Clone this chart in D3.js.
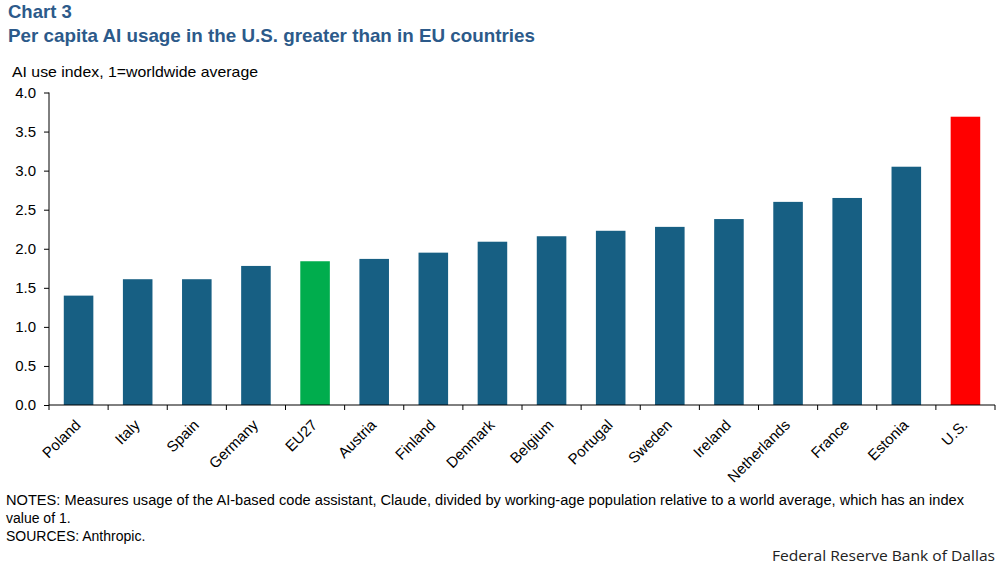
<!DOCTYPE html>
<html>
<head>
<meta charset="utf-8">
<script src="https://d3js.org/d3.v7.min.js"></script>
<style>
  body { margin: 0; background: #fff; }
  svg text { font-family: "Liberation Sans", Arial, sans-serif; }
  .title { font-weight: bold; fill: #2c5a8a; font-size: 18.5px; }
  .axis text { font-size: 15px; fill: #000; }
  .axis path, .axis line { stroke: #000; }
  .note { font-size: 14px; fill: #000; }
</style>
</head>
<body>
<svg id="chart"></svg>
<script>
// data
var countries = ["Poland", "Italy", "Spain", "Germany", "EU27", "Austria", "Finland", "Denmark",
                 "Belgium", "Portugal", "Sweden", "Ireland", "Netherlands", "France", "Estonia", "U.S."];
var usage = [1.40, 1.61, 1.61, 1.78, 1.84, 1.87, 1.95, 2.09, 2.16, 2.23, 2.28, 2.38, 2.60, 2.65, 3.05, 3.69];
var yTicks = [0, 0.5, 1, 1.5, 2, 2.5, 3, 3.5, 4];

var W = 997, H = 565;
var margin = {top: 92.5, right: 2, bottom: 160, left: 49};
var width = W - margin.left - margin.right,
    height = H - margin.top - margin.bottom;

var svg = d3.select("#chart").attr("width", W).attr("height", H);

svg.append("text").attr("class", "title").attr("x", 8).attr("y", 18).text("Chart 3");
svg.append("text").attr("class", "title").attr("x", 8).attr("y", 42)
   .attr("textLength", 527).attr("lengthAdjust", "spacingAndGlyphs")
   .text("Per capita AI usage in the U.S. greater than in EU countries");
svg.append("text").attr("x", 12).attr("y", 77).style("font-size", "15px")
   .attr("textLength", 246).attr("lengthAdjust", "spacingAndGlyphs")
   .text("AI use index, 1=worldwide average");

var g = svg.append("g").attr("transform", "translate(" + margin.left + "," + margin.top + ")");

var x = d3.scaleBand().range([0, width]).paddingInner(0.5).paddingOuter(0.25).domain(countries);
var y = d3.scaleLinear().range([height, 0]).domain([0, 4]);

g.selectAll("rect")
  .data(countries)
  .enter().append("rect")
  .attr("x", d => x(d))
  .attr("width", x.bandwidth())
  .attr("y", (d, i) => y(usage[i]))
  .attr("height", (d, i) => height - y(usage[i]))
  .style("fill", d => d === "EU27" ? "#00ad4d" : (d === "U.S." ? "#ff0000" : "#175f83"));

// y axis
var yAxis = g.append("g").attr("class", "axis")
  .call(d3.axisLeft(y).tickValues(yTicks).tickFormat(d3.format(".1f")).tickSize(5).tickPadding(8));
yAxis.select(".domain").attr("d", "M0,0V" + height);

// x axis with boundary ticks
var xb = g.append("g").attr("class", "axis").attr("transform", "translate(0," + height + ")");
xb.append("line").attr("x1", 0).attr("x2", width).attr("stroke", "#000");
xb.selectAll(".bt").data(d3.range(countries.length + 1)).enter().append("line")
  .attr("x1", i => i * width / countries.length).attr("x2", i => i * width / countries.length)
  .attr("y1", 0).attr("y2", 5).attr("stroke", "#000");
xb.selectAll(".lbl").data(countries).enter().append("text")
  .attr("text-anchor", "end")
  .attr("transform", d => "translate(" + (x(d) + x.bandwidth() / 2 + 3) + ",21) rotate(-45)")
  .text(d => d);

// notes
svg.append("text").attr("class", "note").attr("x", 6).attr("y", 505)
  .attr("textLength", 958).attr("lengthAdjust", "spacingAndGlyphs")
  .text("NOTES: Measures usage of the AI-based code assistant, Claude, divided by working-age population relative to a world average, which has an index");
svg.append("text").attr("class", "note").attr("x", 6).attr("y", 523).text("value of 1.");
svg.append("text").attr("class", "note").attr("x", 6).attr("y", 541).text("SOURCES: Anthropic.");
svg.append("text").attr("x", 995).attr("y", 561).attr("text-anchor", "end")
  .style("font-family", "'Open Sans', sans-serif").style("font-size", "14.5px").style("fill", "#222")
  .attr("textLength", 223).attr("lengthAdjust", "spacingAndGlyphs")
  .text("Federal Reserve Bank of Dallas");
</script>
</body>
</html>
